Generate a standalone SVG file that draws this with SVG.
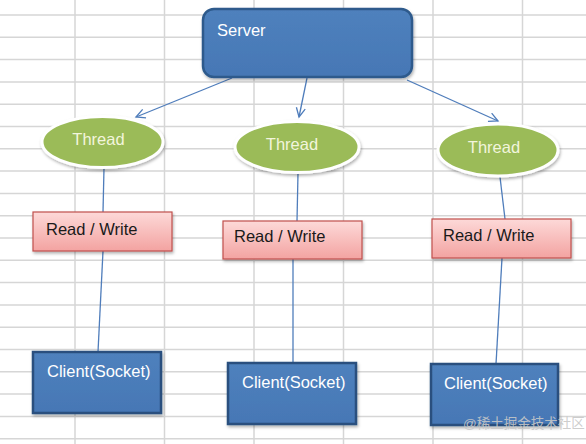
<svg xmlns="http://www.w3.org/2000/svg" width="586" height="444" viewBox="0 0 586 444">
  <style>
    .grid line { stroke: #d6d6d6; stroke-width: 1.5; }
    .server { fill: url(#blueGrad); stroke: #2d5a8c; stroke-width: 2.5; }
    .client { fill: url(#blueGrad); stroke: #2b4f7e; stroke-width: 2.5; }
    .thread { fill: #9bbb59; stroke: #ffffff; stroke-width: 3; }
    .rw { fill: url(#pinkGrad); stroke: #c0504d; stroke-width: 1.2; }
    .wtext { font-family: "Liberation Sans", Arial, sans-serif; font-size: 16.5px; fill: #ffffff; }
    .ttext { font-family: "Liberation Sans", Arial, sans-serif; font-size: 16.5px; fill: #f2f5dc; text-anchor: middle; }
    .dtext { font-family: "Liberation Sans", Arial, sans-serif; font-size: 16.5px; fill: #1a1a1a; }
    .conn { stroke: #4f7dbb; stroke-width: 1.3; fill: none; }
    .arrow { marker-end: url(#vhead); }
  </style>
  <defs>
    <linearGradient id="blueGrad" x1="0" y1="0" x2="0" y2="1">
      <stop offset="0" stop-color="#4f81bd"/>
      <stop offset="1" stop-color="#4677b5"/>
    </linearGradient>
    <linearGradient id="pinkGrad" x1="0" y1="0" x2="0" y2="1">
      <stop offset="0" stop-color="#fdd9d8"/>
      <stop offset="1" stop-color="#f3a3a1"/>
    </linearGradient>
    <filter id="shadow" x="-10%" y="-10%" width="125%" height="135%">
      <feDropShadow dx="1" dy="2" stdDeviation="1.5" flood-color="#000000" flood-opacity="0.3"/>
    </filter>
    <marker id="vhead" markerWidth="12" markerHeight="12" refX="10" refY="5" orient="auto" markerUnits="userSpaceOnUse">
      <path d="M1,0.5 L10,5 L1,9.5" fill="none" stroke="#4f7dbb" stroke-width="1.3"/>
    </marker>
  </defs>

  <rect x="0" y="0" width="586" height="444" fill="#ffffff"/>

  <g class="grid">
    <line x1="75" y1="0" x2="75" y2="444"/>
    <line x1="164.5" y1="0" x2="164.5" y2="444"/>
    <line x1="254" y1="0" x2="254" y2="444"/>
    <line x1="343.5" y1="0" x2="343.5" y2="444"/>
    <line x1="433" y1="0" x2="433" y2="444"/>
    <line x1="522.5" y1="0" x2="522.5" y2="444"/>
    <line x1="0" y1="15" x2="586" y2="15"/>
    <line x1="0" y1="37.3" x2="586" y2="37.3"/>
    <line x1="0" y1="59.6" x2="586" y2="59.6"/>
    <line x1="0" y1="81.9" x2="586" y2="81.9"/>
    <line x1="0" y1="104.2" x2="586" y2="104.2"/>
    <line x1="0" y1="126.5" x2="586" y2="126.5"/>
    <line x1="0" y1="148.8" x2="586" y2="148.8"/>
    <line x1="0" y1="171.1" x2="586" y2="171.1"/>
    <line x1="0" y1="193.4" x2="586" y2="193.4"/>
    <line x1="0" y1="215.7" x2="586" y2="215.7"/>
    <line x1="0" y1="238" x2="586" y2="238"/>
    <line x1="0" y1="260.3" x2="586" y2="260.3"/>
    <line x1="0" y1="282.6" x2="586" y2="282.6"/>
    <line x1="0" y1="304.9" x2="586" y2="304.9"/>
    <line x1="0" y1="327.2" x2="586" y2="327.2"/>
    <line x1="0" y1="349.5" x2="586" y2="349.5"/>
    <line x1="0" y1="371.8" x2="586" y2="371.8"/>
    <line x1="0" y1="394.1" x2="586" y2="394.1"/>
    <line x1="0" y1="416.4" x2="586" y2="416.4"/>
    <line x1="0" y1="438.7" x2="586" y2="438.7"/>
  </g>

  <g id="connectors">
    <line class="conn arrow" x1="232" y1="78" x2="136" y2="117"/>
    <line class="conn arrow" x1="307" y1="78" x2="299" y2="117"/>
    <line class="conn arrow" x1="407" y1="80" x2="498" y2="121"/>
    <line class="conn" x1="104" y1="168" x2="103" y2="212"/>
    <line class="conn" x1="103" y1="251" x2="98" y2="352"/>
    <line class="conn" x1="298" y1="173" x2="297" y2="221"/>
    <line class="conn" x1="293" y1="259" x2="293" y2="363"/>
    <line class="conn" x1="500" y1="177" x2="505" y2="219"/>
    <line class="conn" x1="502" y1="258" x2="496" y2="364"/>
  </g>

  <g id="server">
    <rect class="server" x="203" y="9" width="209" height="68" rx="11" ry="11" filter="url(#shadow)"/>
    <text class="wtext" x="217" y="36">Server</text>
  </g>

  <g id="thread1">
    <ellipse class="thread" cx="102.5" cy="142" rx="60.5" ry="25.5" filter="url(#shadow)"/>
    <text class="ttext" x="98.5" y="145">Thread</text>
  </g>
  <g id="thread2">
    <ellipse class="thread" cx="297" cy="147" rx="62" ry="25.5" filter="url(#shadow)"/>
    <text class="ttext" x="292" y="150">Thread</text>
  </g>
  <g id="thread3">
    <ellipse class="thread" cx="498" cy="150" rx="60" ry="26" filter="url(#shadow)"/>
    <text class="ttext" x="494" y="153">Thread</text>
  </g>

  <g id="rw1">
    <rect class="rw" x="33" y="212" width="139" height="39" filter="url(#shadow)"/>
    <text class="dtext" x="46" y="235">Read / Write</text>
  </g>
  <g id="rw2">
    <rect class="rw" x="223" y="221" width="139" height="38" filter="url(#shadow)"/>
    <text class="dtext" x="234" y="242">Read / Write</text>
  </g>
  <g id="rw3">
    <rect class="rw" x="432" y="219" width="139" height="39" filter="url(#shadow)"/>
    <text class="dtext" x="443" y="241">Read / Write</text>
  </g>

  <g id="client1">
    <rect class="client" x="33" y="352" width="128" height="61" filter="url(#shadow)"/>
    <text class="wtext" x="47" y="377">Client(Socket)</text>
  </g>
  <g id="client2">
    <rect class="client" x="228" y="363" width="128" height="61" filter="url(#shadow)"/>
    <text class="wtext" x="242" y="388">Client(Socket)</text>
  </g>
  <g id="client3">
    <rect class="client" x="431" y="364" width="127" height="61" filter="url(#shadow)"/>
    <text class="wtext" x="444" y="389">Client(Socket)</text>
  </g>

  <text x="463" y="428" font-family="Liberation Sans, 'Noto Sans CJK SC', sans-serif" font-size="13.5px" fill="#c8c8c8" fill-opacity="0.9">@稀土掘金技术社区</text>
</svg>
